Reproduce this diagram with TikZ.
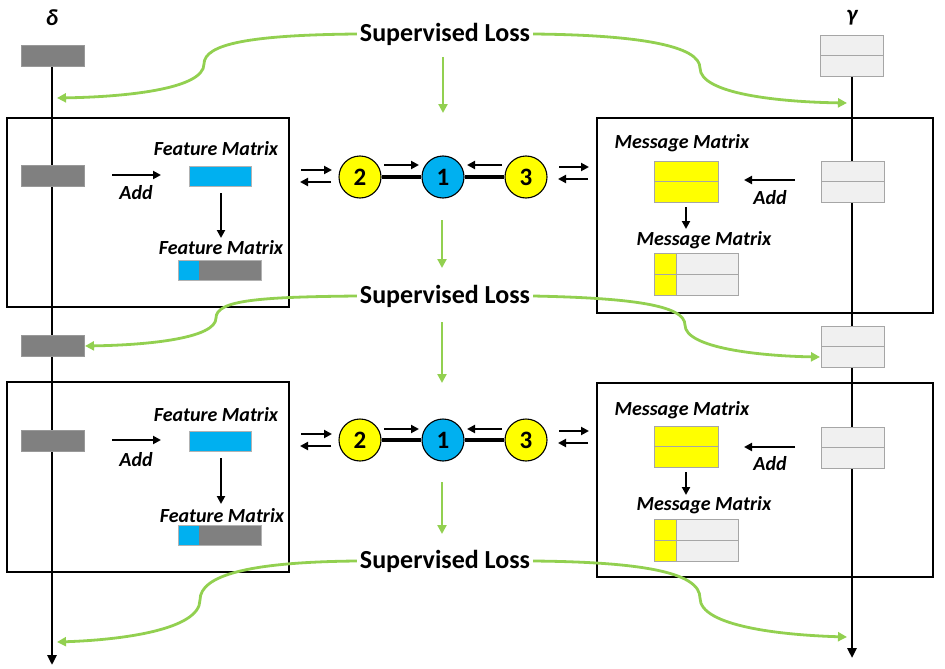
\documentclass[tikz,border=0pt]{standalone}
\usepackage{fontspec}
\setmainfont{Carlito}
\usetikzlibrary{arrows.meta}
\definecolor{lgreen}{HTML}{92D050}
\definecolor{cblue}{HTML}{00B0F0}
\definecolor{cyel}{HTML}{FFFF00}
\definecolor{dgray}{HTML}{808080}
\definecolor{lgray}{HTML}{F0F0F0}
\definecolor{bgray}{HTML}{A6A6A6}
\begin{document}
\begin{tikzpicture}[x=1pt,y=-1pt,
  lbl/.style={font=\fontsize{20}{22}\selectfont\bfseries\itshape, inner sep=0pt},
  greek/.style={font=\fontsize{23}{25}\selectfont\bfseries\itshape, inner sep=0pt},
  loss/.style={font=\fontsize{26}{28}\selectfont\bfseries, inner sep=3pt, fill=white},
  frame/.style={draw=black, line width=1.3pt},
  timeline/.style={line width=2.8pt, -{Triangle[length=10pt,width=9pt]}},
  blk/.style={line width=2.2pt, -{Triangle[length=8pt,width=8pt]}},
  grn/.style={draw=lgreen, line width=2.8pt, -{Triangle[length=9pt,width=9pt]}},
  drect/.style={draw=gray!80, line width=0.6pt, fill=dgray, minimum width=63pt, minimum height=21pt, inner sep=0pt},
  brect/.style={draw=gray!60, line width=0.6pt, fill=cblue, minimum width=62pt, minimum height=20pt, inner sep=0pt},
  grect/.style={draw=bgray, line width=0.9pt, fill=lgray, minimum width=63pt, minimum height=41pt, inner sep=0pt,
    path picture={\draw[bgray, line width=0.9pt] (path picture bounding box.west) -- (path picture bounding box.east);}},
  yrect/.style={draw=bgray, line width=0.9pt, fill=cyel, minimum width=64pt, minimum height=41pt, inner sep=0pt,
    path picture={\draw[bgray, line width=0.9pt] (path picture bounding box.west) -- (path picture bounding box.east);}},
  frect/.style={draw=gray!60, line width=0.6pt, fill=dgray, minimum width=83pt, minimum height=20pt, inner sep=0pt,
    path picture={\fill[cblue] (path picture bounding box.south west) rectangle ([xshift=21pt]path picture bounding box.north west);}},
  mrect/.style={draw=bgray, line width=0.9pt, fill=lgray, minimum width=84pt, minimum height=42pt, inner sep=0pt,
    path picture={\fill[cyel] (path picture bounding box.south west) rectangle ([xshift=22pt]path picture bounding box.north west);
      \draw[bgray, line width=0.9pt] ([xshift=22pt]path picture bounding box.south west) -- ([xshift=22pt]path picture bounding box.north west);
      \draw[bgray, line width=0.9pt] (path picture bounding box.west) -- (path picture bounding box.east);}},
  ynode/.style={circle, draw=black, line width=1.1pt, fill=cyel, minimum size=42pt, inner sep=0pt, font=\fontsize{25}{27}\selectfont\bfseries},
  bnode/.style={ynode, fill=cblue},
  edge/.style={line width=3.5pt}
]
\useasboundingbox (0,0) rectangle (945,669);

% frames
\draw[frame] (7,118) rectangle (289,307);
\draw[frame] (597,118) rectangle (933,313);
\draw[frame] (7,382) rectangle (289,572);
\draw[frame] (597,383) rectangle (933,577);

% timelines
\coordinate (dtop) at (52,65);
\coordinate (dbot) at (52,665);
\coordinate (gtop) at (852,76);
\coordinate (gbot) at (852,658);
\draw[timeline] (dtop) -- (dbot);
\draw[timeline] (gtop) -- (gbot);

\node[greek] (delta) at (52,18) {δ};
\node[greek] (gamma) at (852,18) {γ};

% delta rects
\node[drect] (d0) at (52.5,55.5) {};
\node[drect] (d1) at (52.5,175.5) {};
\node[drect] (d2) at (52.5,345.5) {};
\node[drect] (d3) at (52.5,440.5) {};

% gamma rects
\node[grect] (g0) at (851.5,55.5) {};
\node[grect] (g1) at (852.5,181.5) {};
\node[grect] (g2) at (852.5,346.5) {};
\node[grect] (g3) at (852.5,447.5) {};

% Supervised loss labels
\node[loss] (L1) at (445,34) {Supervised Loss};
\node[loss] (L2) at (445,296) {Supervised Loss};
\node[loss] (L3) at (445,561) {Supervised Loss};

% ---------- upper block ----------
\node[lbl] (fm1) at (216,149) {Feature Matrix};
\node[brect] (f1) at (220,176) {};
\node[lbl] (add1) at (136,193) {Add};
\coordinate (a1s) at (112,175); \coordinate (a1e) at (161,175);
\draw[blk] (a1s) -- (a1e);
\node[lbl] (fm1b) at (221,248) {Feature Matrix};
\coordinate (v1s) at (221,193); \coordinate (v1e) at (221,238);
\draw[blk] (v1s) -- (v1e);
\node[frect] (c1) at (219.5,270) {};

\node[lbl] (mm1) at (682,143) {Message Matrix};
\node[yrect] (y1) at (686,181.5) {};
\node[lbl] (add2) at (770,198) {Add};
\coordinate (a2s) at (795,180); \coordinate (a2e) at (744,180);
\draw[blk] (a2s) -- (a2e);
\node[lbl] (mm1b) at (704,240) {Message Matrix};
\coordinate (v2s) at (686,207); \coordinate (v2e) at (686,229);
\draw[blk] (v2s) -- (v2e);
\node[mrect] (m1) at (696,274) {};

% graph
\node[ynode] (n2) at (360,177) {2};
\node[bnode] (n1) at (443,177) {1};
\node[ynode] (n3) at (526,177) {3};
\draw[edge] (n2) -- (n1);
\draw[edge] (n1) -- (n3);
\coordinate (p1s) at (384,165); \coordinate (p1e) at (419,165);
\coordinate (p2s) at (502,165); \coordinate (p2e) at (467,165);
\draw[blk] (p1s) -- (p1e);
\draw[blk] (p2s) -- (p2e);
\coordinate (l1a) at (301,170); \coordinate (l1b) at (332,170);
\coordinate (l1c) at (331,182); \coordinate (l1d) at (300,182);
\draw[blk] (l1a) -- (l1b);
\draw[blk] (l1c) -- (l1d);
\coordinate (r1a) at (559,167); \coordinate (r1b) at (589,167);
\coordinate (r1c) at (588,179); \coordinate (r1d) at (558,179);
\draw[blk] (r1a) -- (r1b);
\draw[blk] (r1c) -- (r1d);

% ---------- lower block ----------
\node[lbl] (fm2) at (216,415) {Feature Matrix};
\node[brect] (f2) at (220,441) {};
\node[lbl] (add3) at (136,460) {Add};
\coordinate (a3s) at (112,440); \coordinate (a3e) at (161,440);
\draw[blk] (a3s) -- (a3e);
\node[lbl] (fm2b) at (222,516) {Feature Matrix};
\coordinate (v3s) at (221,458); \coordinate (v3e) at (221,504);
\draw[blk] (v3s) -- (v3e);
\node[frect] (c2) at (219.5,535) {};

\node[lbl] (mm2) at (682,410) {Message Matrix};
\node[yrect] (y2) at (686,446.5) {};
\node[lbl] (add4) at (770,464) {Add};
\coordinate (a4s) at (795,447); \coordinate (a4e) at (744,447);
\draw[blk] (a4s) -- (a4e);
\node[lbl] (mm2b) at (704,505) {Message Matrix};
\coordinate (v4s) at (686,472); \coordinate (v4e) at (686,495);
\draw[blk] (v4s) -- (v4e);
\node[mrect] (m2) at (696,540) {};

\node[ynode] (n5) at (360,440) {2};
\node[bnode] (n4) at (443,440) {1};
\node[ynode] (n6) at (526,440) {3};
\draw[edge] (n5) -- (n4);
\draw[edge] (n4) -- (n6);
\coordinate (q1s) at (384,429); \coordinate (q1e) at (419,429);
\coordinate (q2s) at (502,429); \coordinate (q2e) at (467,429);
\draw[blk] (q1s) -- (q1e);
\draw[blk] (q2s) -- (q2e);
\coordinate (l2a) at (301,434); \coordinate (l2b) at (332,434);
\coordinate (l2c) at (331,446); \coordinate (l2d) at (300,446);
\draw[blk] (l2a) -- (l2b);
\draw[blk] (l2c) -- (l2d);
\coordinate (r2a) at (559,431); \coordinate (r2b) at (589,431);
\coordinate (r2c) at (588,443); \coordinate (r2d) at (558,443);
\draw[blk] (r2a) -- (r2b);
\draw[blk] (r2c) -- (r2d);

% ---------- green vertical arrows ----------
\coordinate (gv1s) at (443,57); \coordinate (gv1e) at (443,113);
\coordinate (gv2s) at (442,220); \coordinate (gv2e) at (442,268);
\coordinate (gv3s) at (442,322); \coordinate (gv3e) at (442,383);
\coordinate (gv4s) at (442,482); \coordinate (gv4e) at (442,534);
\draw[grn] (gv1s) -- (gv1e);
\draw[grn] (gv2s) -- (gv2e);
\draw[grn] (gv3s) -- (gv3e);
\draw[grn] (gv4s) -- (gv4e);

% ---------- green curves ----------
\coordinate (e1l) at (57,98);
\coordinate (e1r) at (847,103);
\coordinate (e2l) at (85,346);
\coordinate (e2r) at (820,357);
\coordinate (e3l) at (57,642);
\coordinate (e3r) at (847,637);
\draw[grn] (L1.west) .. controls (250,35) and (204,44) .. (204,64) .. controls (204,90) and (120,97) .. (e1l);
\draw[grn] (L1.east) .. controls (640,35) and (700,46) .. (700,68) .. controls (700,94) and (780,102) .. (e1r);
\draw[grn] (L2.west) .. controls (260,297) and (216,300) .. (216,318) .. controls (216,338) and (150,345) .. (e2l);
\draw[grn] (L2.east) .. controls (630,298) and (685,305) .. (685,325) .. controls (685,348) and (760,356) .. (e2r);
\draw[grn] (L3.west) .. controls (250,562) and (200,575) .. (200,600) .. controls (200,630) and (120,640) .. (e3l);
\draw[grn] (L3.east) .. controls (640,562) and (700,572) .. (700,598) .. controls (700,626) and (780,635) .. (e3r);
\end{tikzpicture}
\end{document}
